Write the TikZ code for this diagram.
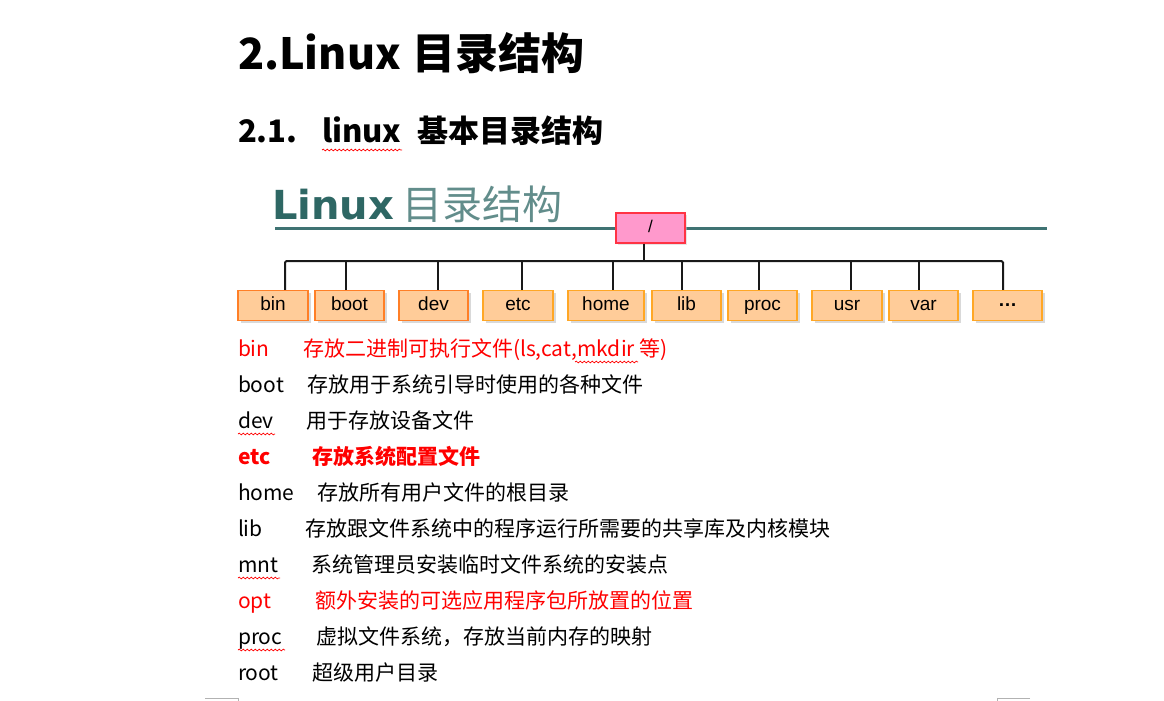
\documentclass[tikz,border=0pt]{standalone}
\usepackage{fontspec}
\setmainfont{Noto Sans CJK SC}
\newfontfamily\dejafont{DejaVu Sans}
\newfontfamily\arialfont{Liberation Sans}
\usetikzlibrary{shadows,decorations.pathmorphing}
\definecolor{tealdk}{HTML}{2E6764}
\definecolor{tealln}{HTML}{3F7373}
\definecolor{boxfill}{HTML}{FFCC99}
\definecolor{bdA}{HTML}{FF7F27}
\definecolor{bdB}{HTML}{FFA726}
\definecolor{pinkfill}{HTML}{FF99CC}
\definecolor{rootbd}{HTML}{FF3344}
\definecolor{wred}{HTML}{FF0000}
\begin{document}
\begin{tikzpicture}[x=1pt,y=-1pt,
  txt/.style={anchor=base west,inner sep=0pt,outer sep=0pt},
  title/.style={txt,font=\fontsize{43}{50}\selectfont\bfseries},
  subtitle/.style={txt,font=\fontsize{31}{36}\selectfont\bfseries},
  item/.style={txt,font=\fontsize{21}{25}\selectfont},
  dirbox/.style={draw=#1,fill=boxfill,line width=1.2pt,minimum height=30pt,inner sep=0pt,
     text height=13.5pt,text depth=4pt,
     font=\arialfont\fontsize{19}{22}\selectfont,
     drop shadow={shadow xshift=2.5pt,shadow yshift=-2.5pt,fill=black!25,opacity=0.6}},
  bus/.style={line width=2pt,black!90},
  wavy/.style={draw=wred,line width=0.7pt,decorate,decoration={snake,segment length=4pt,amplitude=0.9pt}},
  corner/.style={draw=black!30,line width=0.8pt}
]
\useasboundingbox (0,0) rectangle (1164,701);
% titles
\node[title] (t1a) at (238,70) {2.Linux};
\node[title] (t1b) at (412,70) {目录结构};
\node[subtitle] (t2a) at (238,142) {2.1.};
\node[subtitle] (t2b) at (322,142) {linux};
\node[subtitle] (t2c) at (417,142) {基本目录结构};
\draw[wavy] (322,150) -- (402,150);
% diagram heading
\node[txt,text=tealdk,font=\dejafont\fontsize{40}{44}\selectfont\bfseries] (hl) at (272,219) {Linux};
\node[txt,text=tealdk!75,font=\fontsize{40}{44}\selectfont] (hc) at (402,219) {目录结构};
\draw[tealln,line width=3.5pt] (275,228.5) -- (1047,228.5);
% root
\node[draw=rootbd,fill=pinkfill,line width=1.2pt,minimum width=69pt,minimum height=30pt,inner sep=0pt,
  text height=12pt,text depth=3pt,
  font=\arialfont\fontsize{17}{20}\selectfont,
  drop shadow={shadow xshift=2pt,shadow yshift=-2pt,fill=black!20,opacity=0.5}] (root) at (650.5,228) {/};
% boxes
\node[dirbox=bdA,minimum width=70pt] (bin)  at (273,305.5) {bin};
\node[dirbox=bdA,minimum width=69pt] (boot) at (349.5,305.5) {boot};
\node[dirbox=bdA,minimum width=69pt] (dev)  at (433.5,305.5) {dev};
\node[dirbox=bdB,minimum width=70pt] (etc)  at (518,305.5) {etc};
\node[dirbox=bdB,minimum width=76pt] (home) at (606,305.5) {home};
\node[dirbox=bdB,minimum width=69pt] (lib)  at (686.5,305.5) {lib};
\node[dirbox=bdB,minimum width=69pt] (proc) at (762.5,305.5) {proc};
\node[dirbox=bdB,minimum width=70pt] (usr)  at (847,305.5) {usr};
\node[dirbox=bdB,minimum width=69pt] (var)  at (923.5,305.5) {var};
\node[dirbox=bdB,minimum width=69pt,font=\arialfont\bfseries\fontsize{19}{22}\selectfont] (dots) at (1007.5,305.5) {\raisebox{4pt}{…}};
% bus coordinates
\coordinate (t0) at (644,261);
\coordinate (tbin) at (285,261);
\coordinate (tboot) at (346,261);
\coordinate (tdev) at (438,261);
\coordinate (tetc) at (522,261);
\coordinate (thome) at (613,261);
\coordinate (tlib) at (682,261);
\coordinate (tproc) at (759,261);
\coordinate (tusr) at (851,261);
\coordinate (tvar) at (919,261);
\coordinate (tdots) at (1003,261);
\draw[bus] (root.south -| t0) -- (t0);
\draw[bus,rounded corners=1.5pt] (tbin |- bin.north) -- (tbin) -- (tdots) -- (tdots |- dots.north);
\foreach \n in {boot,dev,etc,home,lib,proc,usr,var}{
  \draw[bus] (t\n) -- (t\n |- \n.north);
}
% list
\node[item,text=wred] (lbin) at (238,356) {bin};
\node[item,text=wred] (dbin) at (303,356) {存放二进制可执行文件(ls,cat,mkdir 等)};
\node[item] (lboot) at (238,392) {boot};
\node[item] (dboot) at (307,392) {存放用于系统引导时使用的各种文件};
\node[item] (ldev) at (238,428) {dev};
\node[item] (ddev) at (306,428) {用于存放设备文件};
\node[item,text=wred,font=\fontsize{21}{25}\selectfont\bfseries] (letc) at (238,464) {etc};
\node[item,text=wred,font=\fontsize{21}{25}\selectfont\bfseries] (detc) at (312,464) {存放系统配置文件};
\node[item] (lhome) at (238,500) {home};
\node[item] (dhome) at (317,500) {存放所有用户文件的根目录};
\node[item] (llib) at (238,536) {lib};
\node[item] (dlib) at (305,536) {存放跟文件系统中的程序运行所需要的共享库及内核模块};
\node[item] (lmnt) at (238,572) {mnt};
\node[item] (dmnt) at (311,572) {系统管理员安装临时文件系统的安装点};
\node[item,text=wred] (lopt) at (238,608) {opt};
\node[item,text=wred] (dopt) at (315,608) {额外安装的可选应用程序包所放置的位置};
\node[item] (lproc) at (238,644) {proc};
\node[item] (dproc) at (316,644) {虚拟文件系统，存放当前内存的映射};
\node[item] (lroot) at (238,680) {root};
\node[item] (droot) at (312,680) {超级用户目录};
% spell-check underlines
\draw[wavy] (575,362) -- (638,362);
\draw[wavy] (238,434) -- (275,434);
\draw[wavy] (238,578) -- (280,578);
\draw[wavy] (238,650) -- (285,650);
% page corner marks
\draw[corner] (205,698.5) -- (238,698.5) -- (238,701);
\draw[corner] (1030,698.5) -- (997,698.5) -- (997,701);
\end{tikzpicture}
\end{document}
